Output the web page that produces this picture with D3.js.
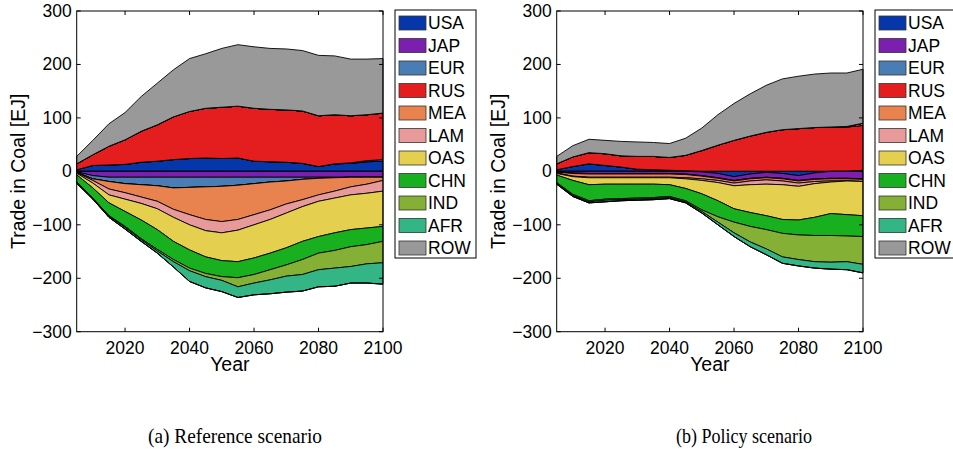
<!DOCTYPE html>
<html>
<head>
<meta charset="utf-8">
<script src="https://cdn.jsdelivr.net/npm/d3@7"></script>
<style>
  body { margin: 0; background: #fff; }
  svg { display: block; }
</style>
</head>
<body>
<svg id="chart" width="953" height="452"></svg>
<script>
// Years on the x axis (5-year steps)
const years = [2005, 2010, 2015, 2020, 2025, 2030, 2035, 2040, 2045, 2050,
               2055, 2060, 2065, 2070, 2075, 2080, 2085, 2090, 2095, 2100];

const regions = ["USA", "JAP", "EUR", "RUS", "MEA", "LAM", "OAS", "CHN", "IND", "AFR", "ROW"];
const regionColors = ["#0537ab", "#7b1fae", "#4a7db4", "#e41d1f", "#e8834f", "#e89a9b",
                      "#e5cf4f", "#19b01f", "#84b135", "#33b585", "#999999"];

const yTicks = [-300, -200, -100, 0, 100, 200, 300];
const xTicks = [2020, 2040, 2060, 2080, 2100];

// Net coal trade, reference scenario [EJ] (exports > 0, imports < 0)
const refUSA = [3, 11, 12, 13, 17, 19, 22, 24, 25, 24, 25, 19, 18, 17, 15, 9, 14, 15, 18, 19];
const refJAP = [-1, -8, -11, -11, -11, -11, -11, -11, -11, -11, -11, -11, -11, -11, -11, -11, -11, -11, -11, -11];
const refEUR = [-1, -6, -8, -12, -14, -16, -20, -19, -18, -17, -15, -12, -9, -7, -4, -2, -1, 1, 2, 3];
const refRUS = [11, 20, 35, 46, 58, 68, 80, 88, 93, 96, 97, 99, 98, 98, 98, 95, 92, 88, 86, 87];
const refMEA = [-0.5, -3, -14, -17, -23, -29, -40, -51, -61, -66, -64, -58, -52, -43, -38, -31, -25, -18, -13, -6];
const refLAM = [-1, -5, -11, -12, -12, -14, -15, -19, -21, -21, -20, -19, -18, -17, -13, -12, -13, -15, -17, -20];
const refOAS = [-3, -9, -15, -23, -31, -39, -45, -47, -49, -52, -59, -62, -63, -65, -65, -66, -65, -65, -65, -66];
const refCHN = [-13, -19, -24, -28, -35, -37, -34, -34, -31, -30, -30, -31, -31, -32, -34, -31, -33, -32, -31, -28];
const refIND = [-1, -1, -1, -2, -2, -3, -4, -5, -6, -7, -17, -16, -19, -21, -28, -31, -33, -37, -36, -40];
const refAFR = [-2, -1, -2, -3, -3, -4, -10, -20, -21, -21, -20, -22, -26, -30, -31, -32, -34, -31, -36, -40];
const refROW = [14, 27, 42, 51, 65, 78, 88, 99, 102, 110, 115, 115, 114, 114, 113, 113, 110, 106, 104, 102];

// Net coal trade, policy scenario [EJ]
const polUSA = [3, 9, 14, 11, 8, 4, 3, 2, 1, -1, -4, -10, -5, -2, -4, -8, -3, 0, 0, 2];
const polJAP = [-1, -3, -4, -4, -4, -4, -4, -4, -5, -7, -8, -7, -8, -9, -9, -9, -11, -13, -13, -14];
const polEUR = [-0.5, -1, -1, -1, -1, -1, -1, -1, -1, -1, -1, -1, -1, -1, -1, -1, -1, -1, -1, -1];
const polRUS = [11, 18, 21, 22, 21, 24, 25, 24, 29, 39, 49, 58, 66, 73, 78, 80, 82, 83, 83, 84];
const polMEA = [-1.5, -5, -6, -6, -6, -6, -6, -6, -6, -5, -4, -4, -4, -4, -4, -4, -4, -4, -4, -4];
const polLAM = [-1, -1, -1, -1, -1, -1, -1, -1, -2, -3, -4, -5, -7, -8, -7, -6, -4, -2, 1, 4];
const polOAS = [-3, -7, -13, -12, -12, -12, -12, -13, -18, -25, -34, -43, -52, -59, -65, -63, -63, -59, -63, -64];
const polCHN = [-14, -26, -30, -28, -27, -26, -25, -22, -23, -30, -30, -25, -26, -26, -26, -28, -34, -41, -40, -39];
const polIND = [-1, -2, -2, -2, -2, -2, -2, -2, -2, -3, -10, -20, -29, -36, -44, -46, -49, -50, -48, -52];
const polAFR = [-2, -2, -2, -3, -2, -2, -2, -2, -2, -3, -5, -7, -9, -11, -12, -12, -12, -13, -15, -16];
const polROW = [14, 21, 25, 25, 27, 27, 26, 26, 32, 42, 57, 69, 79, 88, 95, 98, 100, 101, 100, 101];

const panels = [
  { left: 76.7, caption: "(a) Reference scenario", captionX: 235, captionW: 174,
    series: [refUSA, refJAP, refEUR, refRUS, refMEA, refLAM, refOAS, refCHN, refIND, refAFR, refROW] },
  { left: 556.7, caption: "(b) Policy scenario", captionX: 744, captionW: 136,
    series: [polUSA, polJAP, polEUR, polRUS, polMEA, polLAM, polOAS, polCHN, polIND, polAFR, polROW] }
];

const svg = d3.select("#chart");
const plotW = 306.3, plotTop = 11, plotBottom = 331.7;
const sans = "'Liberation Sans', Arial, Helvetica, sans-serif";
const tickFont = 17.5, labelFont = 19.5;
const fmt = v => (v < 0 ? "\u2212" + Math.abs(v) : String(v));

panels.forEach(p => {
  const g = svg.append("g");
  const x = d3.scaleLinear().domain([2005, 2100]).range([p.left, p.left + plotW]);
  const y = d3.scaleLinear().domain([-300, 300]).range([plotBottom, plotTop]);

  const rows = years.map((yr, i) => {
    const r = { year: yr };
    regions.forEach((k, j) => { r[k] = p.series[j][i]; });
    return r;
  });

  // exports stacked upward, imports stacked downward
  const posStack = d3.stack().keys(regions).value((d, k) => Math.max(0, d[k]))(rows);
  const negStack = d3.stack().keys(regions).value((d, k) => Math.min(0, d[k]))(rows);

  const area = d3.area()
    .x(d => x(d.data.year))
    .y0(d => y(d[0]))
    .y1(d => y(d[1]));

  [posStack, negStack].forEach(stack => {
    g.selectAll(null).data(stack).enter().append("path")
      .attr("d", area)
      .attr("fill", (d, i) => regionColors[i])
      .attr("stroke", "#000")
      .attr("stroke-width", 0.9)
      .attr("stroke-linejoin", "round");
  });

  // axes box with inward ticks on all sides
  g.append("rect")
    .attr("x", p.left).attr("y", plotTop)
    .attr("width", plotW).attr("height", plotBottom - plotTop)
    .attr("fill", "none").attr("stroke", "#000").attr("stroke-width", 1);

  const tl = 4;
  yTicks.forEach(v => {
    g.append("line").attr("x1", p.left).attr("x2", p.left + tl)
      .attr("y1", y(v)).attr("y2", y(v)).attr("stroke", "#000");
    g.append("line").attr("x1", p.left + plotW).attr("x2", p.left + plotW - tl)
      .attr("y1", y(v)).attr("y2", y(v)).attr("stroke", "#000");
    g.append("text")
      .attr("x", p.left - 5).attr("y", y(v))
      .attr("text-anchor", "end").attr("dominant-baseline", "central")
      .attr("font-family", sans).attr("font-size", tickFont)
      .text(fmt(v));
  });
  xTicks.forEach(v => {
    g.append("line").attr("x1", x(v)).attr("x2", x(v))
      .attr("y1", plotBottom).attr("y2", plotBottom - tl).attr("stroke", "#000");
    g.append("line").attr("x1", x(v)).attr("x2", x(v))
      .attr("y1", plotTop).attr("y2", plotTop + tl).attr("stroke", "#000");
    g.append("text")
      .attr("x", x(v)).attr("y", plotBottom + 22)
      .attr("text-anchor", "middle")
      .attr("font-family", sans).attr("font-size", tickFont)
      .text(v);
  });

  g.append("text")
    .attr("x", p.left + plotW / 2).attr("y", 371)
    .attr("text-anchor", "middle")
    .attr("font-family", sans).attr("font-size", labelFont)
    .text("Year");

  g.append("text")
    .attr("transform", `translate(${p.left - 52},${(plotTop + plotBottom) / 2}) rotate(-90)`)
    .attr("text-anchor", "middle")
    .attr("font-family", sans).attr("font-size", labelFont)
    .text("Trade in Coal [EJ]");

  // legend
  const lx = p.left + plotW + 12, ly = 10, lh = 248, lw = 81;
  const lg = g.append("g");
  lg.append("rect").attr("x", lx).attr("y", ly).attr("width", lw).attr("height", lh)
    .attr("fill", "#fff").attr("stroke", "#000").attr("stroke-width", 1);
  regions.forEach((k, i) => {
    const cy = 23 + 22.5 * i;
    lg.append("rect").attr("x", lx + 4).attr("y", cy - 7).attr("width", 27).attr("height", 14)
      .attr("fill", regionColors[i]).attr("stroke", "#333").attr("stroke-width", 0.8);
    lg.append("text").attr("x", lx + 33).attr("y", cy)
      .attr("dominant-baseline", "central")
      .attr("font-family", sans).attr("font-size", tickFont)
      .text(k);
  });

  // sub-figure caption in a narrow serif face
  svg.append("text")
    .attr("x", p.captionX).attr("y", 443)
    .attr("text-anchor", "middle")
    .attr("font-family", "'Liberation Serif', 'Times New Roman', serif")
    .attr("font-size", 21)
    .attr("textLength", p.captionW)
    .attr("lengthAdjust", "spacingAndGlyphs")
    .text(p.caption);
});
</script>
</body>
</html>
